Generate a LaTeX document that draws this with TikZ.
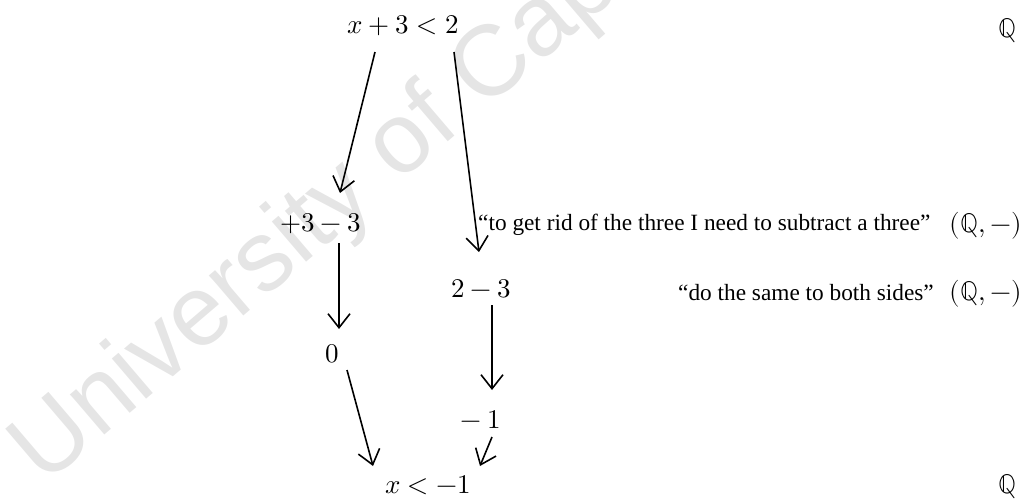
\documentclass[tikz,border=0pt]{standalone}
\usepackage{fontspec}
\usepackage{unicode-math}
\setmathfont{Latin Modern Math}
\newfontfamily\tnr{Liberation Serif}
\newfontfamily\wmfont{Liberation Sans}
\usetikzlibrary{arrows.meta,calc}
\begin{document}
\begin{tikzpicture}[x=1pt,y=-1pt,
  mth/.style={inner sep=0pt, anchor=base, font=\fontsize{27}{32}\selectfont},
  quo/.style={inner sep=0pt, font=\tnr\fontsize{23.3}{27}\selectfont},
  arr/.style={line width=1.6pt, -{Straight Barb[length=14pt,width=22pt,line width=1.6pt]}},
  wmark/.style={inner sep=0pt, anchor=base west, rotate=40.5, text=black!10, font=\wmfont\fontsize{100}{110}\selectfont}
  ]
\useasboundingbox (0,0) rectangle (1036,498);
\begin{scope}
\clip (0,0) rectangle (1036,498);
\node[wmark] (wm) at (44,487) {University of Cape Town};
\end{scope}
% nodes
\node[mth] (top) at (403,33) {$x+3<2$};
\node[mth] (pm) at (321,231) {$+3-3$};
\node[mth] (tm) at (481,297) {$2-3$};
\node[mth] (zero) at (332,362) {$0$};
\node[mth] (mone) at (481,428) {$-\:1$};
\node[mth] (res) at (428,493) {$x<-1$};
\node[mth] (qa) at (1007,37) {$\mathbb{Q}$};
\node[mth] (qb) at (1007,493) {$\mathbb{Q}$};
\node[quo, anchor=base west] (c1) at (478,230) {“to get rid of the three I need to subtract a three”};
\node[mth, anchor=base east] (c1m) at (1022,232) {$(\mathbb{Q},-)$};
\node[quo, anchor=base west] (c2) at (678,300) {“do the same to both sides”};
\node[mth, anchor=base east] (c2m) at (1022,300) {$(\mathbb{Q},-)$};
% connectors
\draw[arr] ($(top.base)+(-28,19)$) -- ($(pm.base)+(19,-38)$);
\draw[arr] ($(top.base)+(51,19)$) -- ($(tm.base)+(-2,-45)$);
\draw[arr] ($(pm.base)+(18,12)$) -- ($(zero.base)+(7,-33)$);
\draw[arr] ($(tm.base)+(11,8)$) -- ($(mone.base)+(11,-38)$);
\draw[arr] ($(zero.base)+(15,8)$) -- ($(res.base)+(-55,-27)$);
\draw[arr] ($(mone.base)+(11,9)$) -- ($(res.base)+(52,-27)$);
\end{tikzpicture}
\end{document}
